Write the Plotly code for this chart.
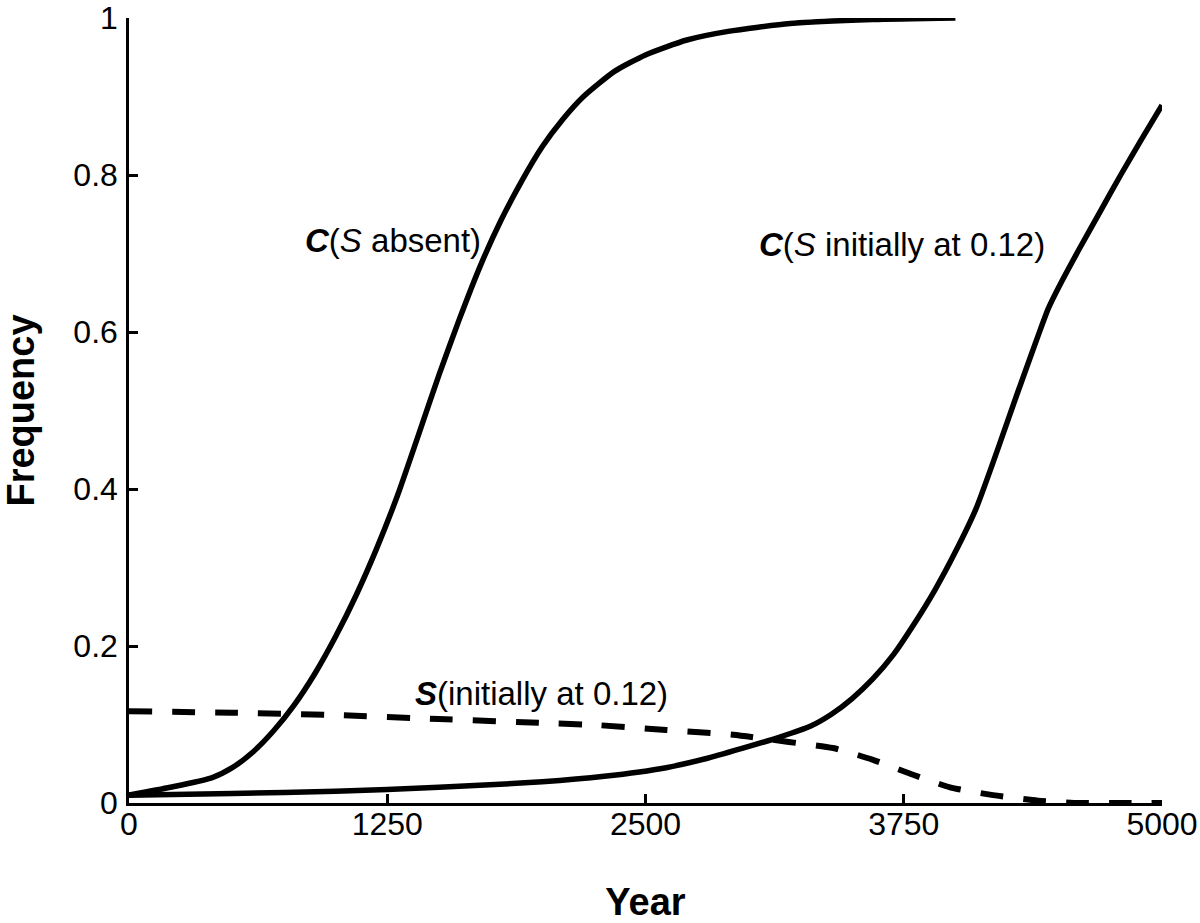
import plotly.graph_objects as go

# --- data ---
years_c_absent = [0, 200, 400, 500, 600, 700, 800, 900, 1000, 1100, 1200, 1300, 1400, 1500,
                  1600, 1700, 1800, 1900, 2000, 2100, 2200, 2350, 2500, 2700, 2900, 3200,
                  3600, 4000]
freq_c_absent = [0.010, 0.020, 0.032, 0.045, 0.065, 0.092, 0.125, 0.165, 0.212, 0.265, 0.325,
                 0.392, 0.468, 0.545, 0.617, 0.684, 0.742, 0.792, 0.836, 0.871, 0.900, 0.932,
                 0.953, 0.972, 0.983, 0.993, 0.998, 1.000]

years_c_s = [0, 500, 1000, 1500, 2000, 2300, 2600, 2800, 3000, 3150, 3300, 3400, 3500, 3600,
             3700, 3800, 3900, 4000, 4100, 4200, 4300, 4400, 4450, 4500, 4600, 4700, 4800,
             4900, 5000]
freq_c_s = [0.010, 0.012, 0.015, 0.020, 0.027, 0.034, 0.045, 0.057, 0.072, 0.084, 0.098, 0.113,
            0.133, 0.158, 0.189, 0.228, 0.271, 0.320, 0.375, 0.447, 0.522, 0.595, 0.630, 0.657,
            0.706, 0.753, 0.800, 0.845, 0.889]

years_s = [0, 500, 1000, 1500, 2000, 2280, 2600, 2924, 3185, 3408, 3601, 3795, 3974, 4182,
           4400, 4600, 4800, 5000]
freq_s = [0.117, 0.115, 0.112, 0.107, 0.102, 0.099, 0.093, 0.087, 0.078, 0.070, 0.055, 0.036,
          0.020, 0.010, 0.003, 0.0, 0.0, 0.0]

x_ticks = [0, 1250, 2500, 3750, 5000]
y_ticks = [0, 0.2, 0.4, 0.6, 0.8, 1.0]
y_tick_text = ["0", "0.2", "0.4", "0.6", "0.8", "1"]

label_c_absent = "<b><i>C</i></b>(<i>S</i> absent)"
label_c_s = "<b><i>C</i></b>(<i>S</i> initially at 0.12)"
label_s = "<b><i>S</i></b>(initially at 0.12)"

FONT = "Liberation Sans, Arial, Helvetica, sans-serif"

fig = go.Figure()
fig.add_trace(go.Scatter(x=years_c_absent, y=freq_c_absent, mode="lines",
                         line=dict(color="black", width=5.5, shape="spline", smoothing=0.6),
                         cliponaxis=False, showlegend=False))
fig.add_trace(go.Scatter(x=years_c_s, y=freq_c_s, mode="lines",
                         line=dict(color="black", width=5.5, shape="spline", smoothing=0.6),
                         cliponaxis=False, showlegend=False))
fig.add_trace(go.Scatter(x=years_s, y=freq_s, mode="lines",
                         line=dict(color="black", width=6, dash="23px,20px", shape="spline",
                                   smoothing=0.6),
                         cliponaxis=False, showlegend=False))

ann_font = dict(family=FONT, size=33, color="black")
fig.add_annotation(x=842, y=0.717, xref="x", yref="y", text=label_c_absent, showarrow=False,
                   xanchor="left", yanchor="middle", font=ann_font)
fig.add_annotation(x=3040, y=0.711, xref="x", yref="y", text=label_c_s, showarrow=False,
                   xanchor="left", yanchor="middle", font=ann_font)
fig.add_annotation(x=1375, y=0.140, xref="x", yref="y", text=label_s, showarrow=False,
                   xanchor="left", yanchor="middle", font=ann_font)

axis_common = dict(showline=True, linecolor="black", linewidth=2.5, ticks="inside",
                   ticklen=9, tickwidth=2.5, tickcolor="black", showgrid=False,
                   zeroline=False, tickfont=dict(family=FONT, size=32, color="black"),
                   ticklabeloverflow="allow", automargin=False)

fig.update_xaxes(range=[0, 5000], tickmode="array", tickvals=x_ticks, ticklabelstandoff=-9,
                 title=dict(text="<b>Year</b>", font=dict(family=FONT, size=38, color="black"),
                            standoff=49),
                 **axis_common)
fig.update_yaxes(range=[0, 1], tickmode="array", tickvals=y_ticks, ticktext=y_tick_text,
                 ticklabelstandoff=2,
                 title=dict(text="<b>Frequency</b>",
                            font=dict(family=FONT, size=38, color="black"), standoff=34),
                 **axis_common)

fig.update_layout(width=1200, height=923, plot_bgcolor="white", paper_bgcolor="white",
                  margin=dict(l=129, r=38, t=18, b=120), showlegend=False)

# remove the default 8px page margin so the 1200x923 figure fills the window exactly
fig.write_html("out.html", config={"displayModeBar": False},
               post_script="document.body.style.margin='0';"
                           "document.body.style.overflow='hidden';")
